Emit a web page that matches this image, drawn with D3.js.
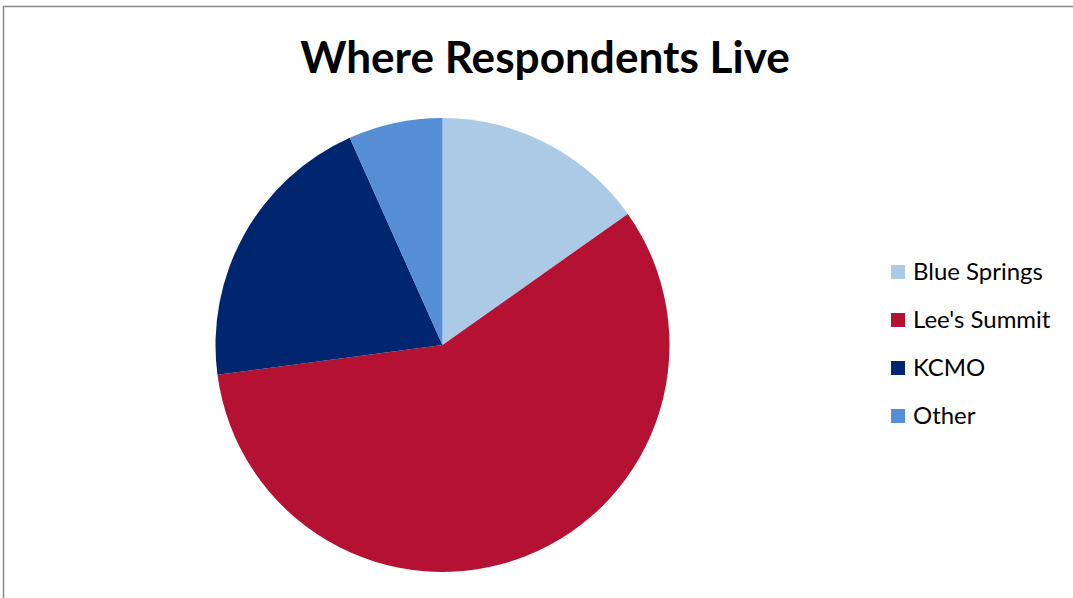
<!DOCTYPE html>
<html><head><meta charset="utf-8">
<script src="https://cdn.jsdelivr.net/npm/d3@7"></script>
<style>body{margin:0;background:#fff}svg{display:block}</style>
</head><body>
<svg id="c" width="1073" height="598"></svg>
<script>
const categories = ["Blue Springs", "Lee's Summit", "KCMO", "Other"];
const values = [15.2, 57.7, 20.4, 6.7];
const colors = ["#abcae6", "#b51233", "#00266f", "#558ed5"];
const title = "Where Respondents Live";

const svg = d3.select("#c");
svg.append("path").attr("d","M3.5,598 V6.5 H1073").attr("fill","none").attr("stroke","#888").attr("stroke-width",1.5);

const t = svg.append("text").attr("x",545).attr("y",73).attr("text-anchor","middle")
  .attr("font-family","Lato, 'Open Sans', sans-serif").attr("font-weight","bold").attr("font-size",40)
  .attr("fill","#000").text(title);
const w = t.node().getComputedTextLength();
t.attr("font-size", 40*490/w);

const data = categories.map((c,i)=>({c, v:values[i], col:colors[i]}));
const pie = d3.pie().sort(null).value(d=>d.v);
const arc = d3.arc().innerRadius(0).outerRadius(227);
const color = d3.scaleOrdinal().domain(categories).range(colors);
svg.append("g").attr("transform","translate(442.5,345)")
  .selectAll("path").data(pie(data)).join("path")
  .attr("d",arc).attr("fill",d=>color(d.data.c));

const lg = svg.append("g").attr("transform","translate(891,265)");
const y = d3.scalePoint().domain(categories).range([0,144]);
const items = lg.selectAll("g").data(categories).join("g").attr("transform",d=>`translate(0,${y(d)})`);
items.append("rect").attr("width",14).attr("height",14).attr("y",0).attr("fill",d=>color(d));
const txt = items.append("text").attr("x",22).attr("y",15).attr("font-family","Lato, 'Open Sans', sans-serif")
  .attr("font-size",21).attr("fill","#000").text(d=>d);
const bw = txt.nodes()[0].getComputedTextLength();
txt.attr("font-size", 21*130/bw);
</script>
</body></html>
